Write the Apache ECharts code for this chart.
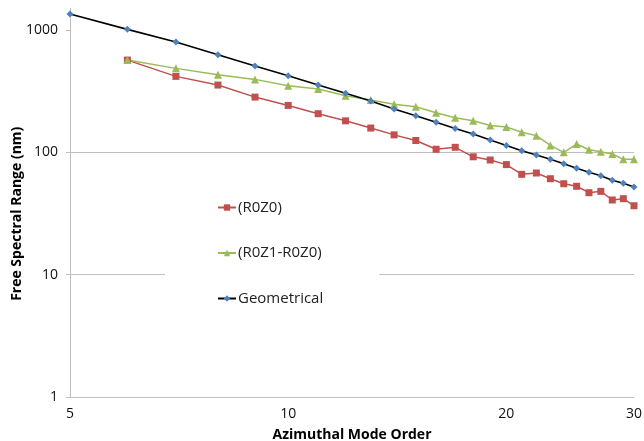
<!DOCTYPE html>
<html>
<head>
<meta charset="utf-8">
<script src="https://cdn.jsdelivr.net/npm/echarts@6/dist/echarts.min.js"></script>
<style>
  html, body { margin: 0; padding: 0; background: #fff; }
  #chart { width: 644px; height: 441px; }
</style>
</head>
<body>
<div id="chart"></div>
<script>
// azimuthal mode orders
const orders = [5, 6, 7, 8, 9, 10, 11, 12, 13, 14, 15, 16, 17, 18, 19, 20, 21, 22, 23, 24, 25, 26, 27, 28, 29, 30];
// FSR (nm); R0Z0 and R0Z1-R0Z0 start at order 6
const r0z0 = [null, 568, 418, 355, 283, 242, 207, 181, 158, 139, 125, 106, 110, 92, 86.6, 79.4, 66.1, 67.8, 60.9, 55.4, 52.8, 46.8, 48.0, 40.8, 41.8, 36.6];
const r0z1 = [null, 570, 486, 431, 395, 350, 329, 290, 268, 247, 236, 211, 192, 181, 166, 161, 146, 137, 114, 100, 117, 105, 101, 97, 87.7, 87.7];
const geometrical = [1351, 1013, 798, 628, 508, 423, 355, 304, 263, 226, 199, 176, 157, 141, 126, 114, 103, 95, 87.7, 80.7, 74, 68.7, 64.4, 59.1, 55.8, 52.1];
const xTicks = [5, 10, 20, 30];
const yTicks = [1, 10, 100, 1000];

function pairs(vals) {
  return orders.map((m, i) => [m, vals[i]]).filter(p => p[1] != null);
}

const chart = echarts.init(document.getElementById('chart'));
const font = '"Open Sans", "DejaVu Sans", sans-serif';

let option = {
  animation: false,
  textStyle: { fontFamily: font },
  grid: { left: 70, right: 10, top: 8.5, bottom: 44, outerBoundsMode: 'none' },
  legend: {
    orient: 'vertical',
    left: 165,
    top: 190,
    padding: [10, 56, 10, 52],
    backgroundColor: '#fff',
    itemGap: 30.5,
    itemWidth: 18,
    itemHeight: 8,
    textStyle: { fontSize: 15, color: '#222', padding: [0, 0, 0, -3] },
    data: ['(R0Z0)', '(R0Z1-R0Z0)', 'Geometrical']
  },
  xAxis: {
    type: 'log',
    min: 5,
    max: 30,
    name: 'Azimuthal Mode Order',
    nameLocation: 'middle',
    nameGap: 31,
    nameMoveOverlap: false,
    nameTextStyle: { fontSize: 14, fontWeight: 'bold', color: '#000' },
    axisLine: { lineStyle: { color: '#bfbfbf' } },
    axisTick: { show: false },
    splitLine: { show: false },
    axisLabel: {
      customValues: xTicks,
      formatter: v => String(Math.round(v)),
      fontSize: 14,
      color: '#111',
      margin: 10
    }
  },
  yAxis: {
    type: 'log',
    min: 1,
    max: 1500,
    name: 'Free Spectral Range (nm)',
    nameLocation: 'middle',
    nameGap: 46,
    nameMoveOverlap: false,
    nameTextStyle: { fontSize: 14, fontWeight: 'bold', color: '#000', padding: [0, 22, 0, 0] },
    axisLine: { show: true, lineStyle: { color: '#bfbfbf' } },
    axisTick: { show: true, customValues: yTicks, length: 4, lineStyle: { color: '#bfbfbf' } },
    splitLine: { show: true, showMaxLine: false, lineStyle: { color: '#bfbfbf', width: 1 } },
    axisLabel: {
      customValues: yTicks,
      formatter: v => String(Math.round(v)),
      fontSize: 14,
      color: '#111',
      margin: 12
    }
  },
  series: [
    {
      name: '(R0Z0)',
      type: 'line',
      data: pairs(r0z0),
      symbol: 'rect',
      symbolSize: 7,
      itemStyle: { color: '#C0504D' },
      lineStyle: { color: '#C0504D', width: 1.5 }
    },
    {
      name: '(R0Z1-R0Z0)',
      type: 'line',
      data: pairs(r0z1),
      symbol: 'triangle',
      symbolSize: 8,
      itemStyle: { color: '#9BBB59' },
      lineStyle: { color: '#9BBB59', width: 1.5 }
    },
    {
      name: 'Geometrical',
      type: 'line',
      data: pairs(geometrical),
      symbol: 'diamond',
      symbolSize: 7,
      itemStyle: { color: '#4F81BD' },
      lineStyle: { color: '#000', width: 1.6 },
      z: 3
    }
  ]
};

chart.setOption(option);
</script>
</body>
</html>
